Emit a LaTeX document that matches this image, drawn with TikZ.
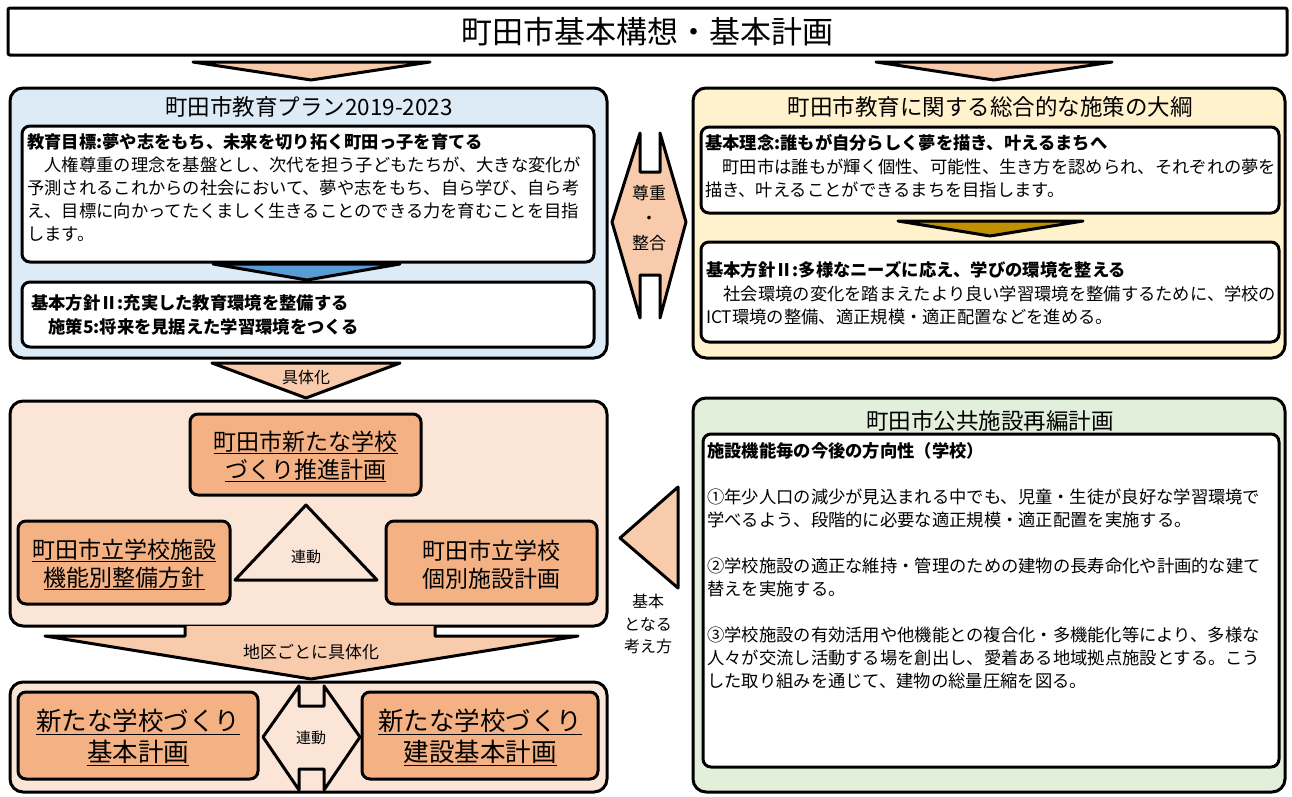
\documentclass[tikz,border=0pt]{standalone}
\usepackage{fontspec}
\setmainfont{Noto Sans CJK JP}
\usetikzlibrary{positioning}
\definecolor{bluebg}{HTML}{DDEBF7}
\definecolor{yelbg}{HTML}{FFF2CC}
\definecolor{grnbg}{HTML}{E2EFDA}
\definecolor{pchbg}{HTML}{FBE5D6}
\definecolor{orbox}{HTML}{F4B183}
\definecolor{pcharr}{HTML}{F8CBAD}
\definecolor{bluearr}{HTML}{5B9BD5}
\definecolor{goldarr}{HTML}{BF9000}
\begin{document}
\begin{tikzpicture}[x=1pt, y=-1pt,
  wh/.style 2 args={minimum width=#1pt, minimum height=#2pt, inner sep=0pt},
  pnl/.style={draw, line width=3pt, rounded corners=13pt},
  wbx/.style={draw, fill=white, line width=3pt, rounded corners=8pt},
  obx/.style={draw, fill=orbox, line width=3pt, rounded corners=8pt},
  blk/.style={draw, line width=3pt, line join=round},
  ttl/.style={font=\fontsize{22.5}{26}\selectfont, inner sep=0pt},
  para/.style={font=\fontsize{17.3}{23}\selectfont, align=left, anchor=north west, inner sep=0pt},
  otxt/.style={font=\fontsize{23}{28}\selectfont, align=center, inner sep=0pt},
  btxt/.style={font=\fontsize{25.5}{31}\selectfont, align=center, inner sep=0pt},
  sml/.style={font=\fontsize{16}{23}\selectfont, align=center, inner sep=0pt}]
\useasboundingbox (0,0) rectangle (1292,796);
\node[wh={1279}{47}, draw, line width=3pt, rounded corners=2pt, fill=white] (kihon) at (647.5,31.5){};
\node[font=\fontsize{31}{36}\selectfont, inner sep=0pt] (kihontxt) at (647.5,31.5){町田市基本構想・基本計画};
\draw[blk, fill=pcharr] (193,62) -- (430,62) -- (311,80) -- cycle;
\draw[blk, fill=pcharr] (876,62) -- (1112,62) -- (994,80) -- cycle;
\node[pnl, fill=bluebg, wh={597}{270}] (plan) at (308.5,223){};
\node[ttl] (plantxt) at (309,107){町田市教育プラン2019-2023};
\node[wbx, wh={572}{136}] (mokuhyo) at (308,194){};
\node[wbx, wh={572}{65}] (hoshin1) at (308,314.5){};
\draw[blk, fill=bluearr] (213,264) -- (400,264) -- (307,280) -- cycle;
\node[para] (mokuhyotxt) at (27,133.4){{\bfseries 教育目標:夢や志をもち、未来を切り拓く町田っ子を育てる}\\　人権尊重の理念を基盤とし、次代を担う子どもたちが、大きな変化が\\予測されるこれからの社会において、夢や志をもち、自ら学び、自ら考\\え、目標に向かってたくましく生きることのできる力を育むことを目指\\します。};
\node[para, font=\fontsize{17.3}{24}\selectfont\bfseries] (hoshin1txt) at (31,294.4){基本方針Ⅱ:充実した教育環境を整備する\\　施策5:将来を見据えた学習環境をつくる};
\node[pnl, fill=yelbg, wh={592}{270}] (taiko) at (989,223){};
\node[ttl] (taikotxt) at (990,107){町田市教育に関する総合的な施策の大綱};
\node[wbx, wh={578}{86}] (rinen) at (990,170){};
\node[wbx, wh={578}{100}] (hoshin2) at (990,292){};
\draw[blk, fill=goldarr] (898,221) -- (1083,221) -- (990,236) -- cycle;
\node[para, font=\fontsize{17.3}{23.5}\selectfont] (rinentxt) at (705,134.4){{\bfseries 基本理念:誰もが自分らしく夢を描き、叶えるまちへ}\\　町田市は誰もが輝く個性、可能性、生き方を認められ、それぞれの夢を\\描き、叶えることができるまちを目指します。};
\node[para, font=\fontsize{17.3}{23.5}\selectfont] (hoshin2txt) at (706,261.4){{\bfseries 基本方針Ⅱ:多様なニーズに応え、学びの環境を整える}\\　社会環境の変化を踏まえたより良い学習環境を整備するために、学校の\\ICT環境の整備、適正規模・適正配置などを進める。};
\draw[blk, fill=pcharr] (612,222) -- (640,133) -- (640,172) -- (660,172) -- (660,133) -- (686,222) -- (660,318) -- (660,275) -- (640,275) -- (640,318) -- cycle;
\node[font=\fontsize{17}{25}\selectfont, align=center, inner sep=0pt] (sonchotxt) at (649,218){尊重\\・\\整合};
\draw[blk, fill=pcharr] (212,363) -- (400,363) -- (306,398) -- cycle;
\node[sml] (gutaitxt) at (306,377){具体化};
\node[pnl, fill=pchbg, wh={597}{225}] (shinki) at (308.5,513.5){};
\node[obx, wh={231}{81}] (suishin) at (305.5,454.5){};
\node[otxt] (suishintxt) at (305.5,456.5){\underline{町田市新たな学校}\\\underline{づくり推進計画}};
\draw[blk, fill=pchbg] (306,505) -- (377,580) -- (235,580) -- cycle;
\node[font=\fontsize{15}{18}\selectfont, inner sep=0pt] (rendo1) at (306,557){連動};
\node[obx, wh={212}{83}] (kinobetsu) at (124,562.5){};
\node[otxt] (kinobetsutxt) at (124,564.5){\underline{町田市立学校施設}\\\underline{機能別整備方針}};
\node[obx, wh={211}{83}] (kobetsu) at (491.5,562.5){};
\node[otxt] (kobetsutxt) at (491.5,564.5){町田市立学校\\個別施設計画};
\draw[blk, fill=pcharr] (185,626) -- (185,636) -- (45,636) -- (311,679) -- (578,636) -- (435,636) -- (435,626);
\node[sml, font=\fontsize{17}{20}\selectfont] (chikutxt) at (311,652){地区ごとに具体化};
\node[pnl, fill=pchbg, wh={597}{110}] (chiku) at (308.5,737){};
\node[obx, wh={240}{87}] (kihonkeikaku) at (138,735.5){};
\node[btxt] (kihonkeikakutxt) at (138,737.5){\underline{新たな学校づくり}\\\underline{基本計画}};
\node[obx, wh={236}{87}] (kensetsu) at (480,735.5){};
\node[btxt] (kensetsutxt) at (480,737.5){\underline{新たな学校づくり}\\\underline{建設基本計画}};
\draw[blk, fill=pchbg] (263,737) -- (299,686) -- (299,706) -- (324,706) -- (324,686) -- (360,737) -- (324,790) -- (324,769) -- (299,769) -- (299,790) -- cycle;
\node[font=\fontsize{15}{18}\selectfont, inner sep=0pt] (rendo2) at (311,738){連動};
\node[pnl, fill=grnbg, wh={592}{394}] (saihen) at (989,595){};
\node[ttl] (saihentxt) at (990,421){町田市公共施設再編計画};
\node[wbx, wh={576}{333}] (hoko) at (991,600.5){};
\node[para] (hokotxt) at (707,442.4){{\bfseries 施設機能毎の今後の方向性（学校）}\\[23pt]①年少人口の減少が見込まれる中でも、児童・生徒が良好な学習環境で\\学べるよう、段階的に必要な適正規模・適正配置を実施する。\\[23pt]②学校施設の適正な維持・管理のための建物の長寿命化や計画的な建て\\替えを実施する。\\[23pt]③学校施設の有効活用や他機能との複合化・多機能化等により、多様な\\人々が交流し活動する場を創出し、愛着ある地域拠点施設とする。こう\\した取り組みを通じて、建物の総量圧縮を図る。};
\draw[blk, fill=pcharr] (620,538) -- (678,487) -- (678,588) -- cycle;
\node[sml, font=\fontsize{16}{22.5}\selectfont] (kangaetxt) at (648,624){基本\\となる\\考え方};
\end{tikzpicture}
\end{document}
